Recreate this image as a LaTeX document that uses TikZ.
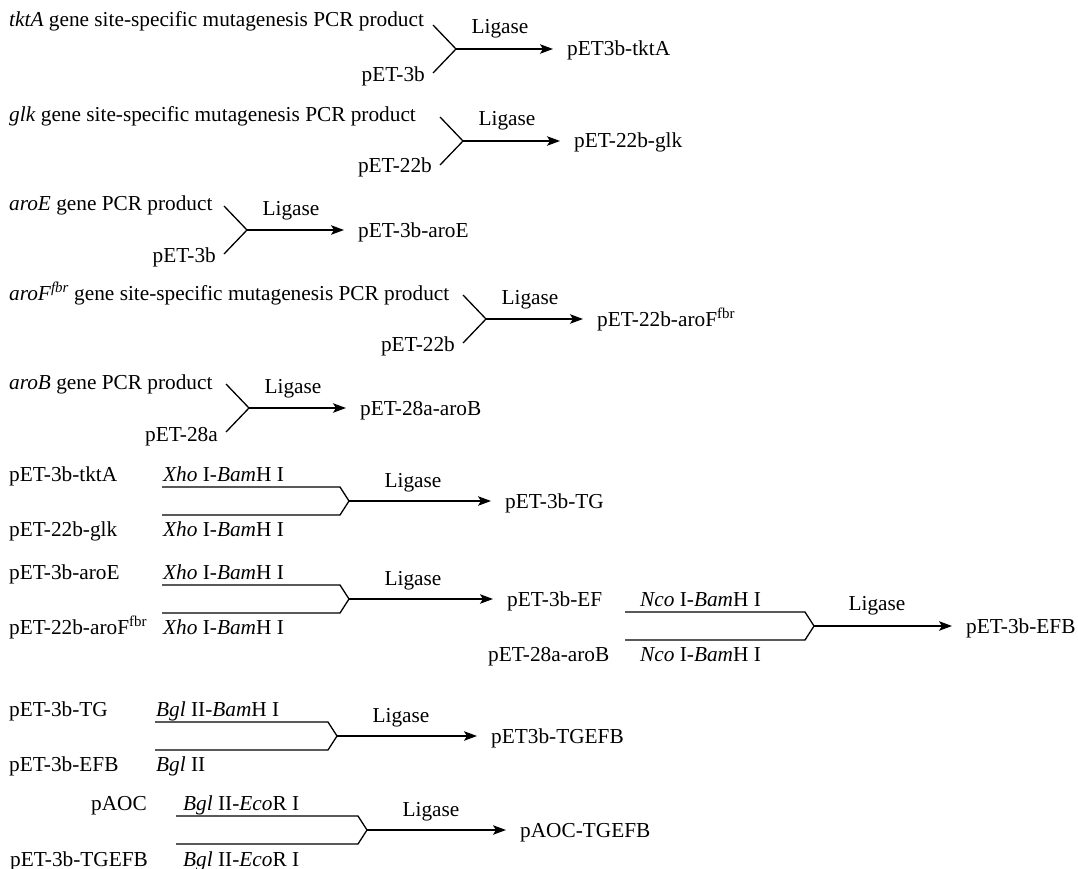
\documentclass[tikz,border=0pt]{standalone}
\usepackage{fontspec}
\setmainfont{Liberation Serif}
\usetikzlibrary{arrows.meta,calc}
\newcommand{\fs}{\fontsize{21.3}{25}\selectfont}
\begin{document}
\begin{tikzpicture}[x=1pt,y=-1pt,
  lbl/.style={inner sep=0pt, font=\fs},
  prod/.style={inner sep=0pt, font=\fs, text height=14pt, text depth=0pt, anchor=west},
  ln/.style={line width=1.3pt, line join=miter},
  arr/.style={line width=1.3pt, -{Stealth[length=13pt,width=9.5pt,inset=3pt]}, shorten >=14pt}]
\useasboundingbox (0,0) rectangle (1078,869);
\fill[white] (0,0) rectangle (1078,869);

% ---------- Y-shaped ligations ----------
% row 1
\coordinate (v1) at (456,49);
\coordinate (a1) at (433,25); \coordinate (b1) at (433,73);
\draw[ln] (a1) -- (v1) -- (b1);
\node[lbl, anchor=base west] (t1) at (9,27) {\textit{tktA} gene site-specific mutagenesis PCR product};
\node[lbl, anchor=base east] (s1) at (425,82) {pET-3b};
\node[lbl, anchor=base] (l1) at (500,34) {Ligase};
\node[prod] (p1) at (567,49) {pET3b-tktA};
\draw[arr] (v1) -- (p1.west);

% row 2
\coordinate (v2) at (463,141);
\coordinate (a2) at (440,117); \coordinate (b2) at (440,165);
\draw[ln] (a2) -- (v2) -- (b2);
\node[lbl, anchor=base west] (t2) at (9,122) {\textit{glk} gene site-specific mutagenesis PCR product};
\node[lbl, anchor=base east] (s2) at (432,173) {pET-22b};
\node[lbl, anchor=base] (l2) at (507,126) {Ligase};
\node[prod] (p2) at (574,141) {pET-22b-glk};
\draw[arr] (v2) -- (p2.west);

% row 3
\coordinate (v3) at (247,230);
\coordinate (a3) at (224,206); \coordinate (b3) at (224,254);
\draw[ln] (a3) -- (v3) -- (b3);
\node[lbl, anchor=base west] (t3) at (9,211) {\textit{aroE} gene PCR product};
\node[lbl, anchor=base east] (s3) at (216,262) {pET-3b};
\node[lbl, anchor=base] (l3) at (291,215) {Ligase};
\node[prod] (p3) at (358,230) {pET-3b-aroE};
\draw[arr] (v3) -- (p3.west);

% row 4
\coordinate (v4) at (486,319);
\coordinate (a4) at (463,295); \coordinate (b4) at (463,343);
\draw[ln] (a4) -- (v4) -- (b4);
\node[lbl, anchor=base west] (t4) at (9,300) {\textit{aroF\textsuperscript{fbr}} gene site-specific mutagenesis PCR product};
\node[lbl, anchor=base east] (s4) at (455,351) {pET-22b};
\node[lbl, anchor=base] (l4) at (530,304) {Ligase};
\node[prod] (p4) at (597,319) {pET-22b-aroF\textsuperscript{fbr}};
\draw[arr] (v4) -- (p4.west);

% row 5
\coordinate (v5) at (249,408);
\coordinate (a5) at (226,384); \coordinate (b5) at (226,432);
\draw[ln] (a5) -- (v5) -- (b5);
\node[lbl, anchor=base west] (t5) at (9,389) {\textit{aroB} gene PCR product};
\node[lbl, anchor=base east] (s5) at (218,441) {pET-28a};
\node[lbl, anchor=base] (l5) at (293,393) {Ligase};
\node[prod] (p5) at (360,408) {pET-28a-aroB};
\draw[arr] (v5) -- (p5.west);

% ---------- two-fragment ligations ----------
% row 6
\coordinate (v6) at (349,501);
\coordinate (s6a) at (162,487); \coordinate (k6a) at (340,487);
\coordinate (s6b) at (162,515); \coordinate (k6b) at (340,515);
\draw[ln] (s6a) -- (k6a) -- (v6) -- (k6b) -- (s6b);
\node[lbl, anchor=base west] (f6a) at (9,481) {pET-3b-tktA};
\node[lbl, anchor=base west] (f6b) at (9,536) {pET-22b-glk};
\node[lbl, anchor=base west] (e6a) at (163,481) {\textit{Xho} I-\textit{Bam}H I};
\node[lbl, anchor=base west] (e6b) at (163,536) {\textit{Xho} I-\textit{Bam}H I};
\node[lbl, anchor=base] (l6) at (413,487) {Ligase};
\node[prod] (p6) at (505,501) {pET-3b-TG};
\draw[arr] (v6) -- (p6.west);

% row 7
\coordinate (v7) at (349,599);
\coordinate (s7a) at (162,585); \coordinate (k7a) at (340,585);
\coordinate (s7b) at (162,613); \coordinate (k7b) at (340,613);
\draw[ln] (s7a) -- (k7a) -- (v7) -- (k7b) -- (s7b);
\node[lbl, anchor=base west] (f7a) at (9,579) {pET-3b-aroE};
\node[lbl, anchor=base west] (f7b) at (9,634) {pET-22b-aroF\textsuperscript{fbr}};
\node[lbl, anchor=base west] (e7a) at (163,579) {\textit{Xho} I-\textit{Bam}H I};
\node[lbl, anchor=base west] (e7b) at (163,634) {\textit{Xho} I-\textit{Bam}H I};
\node[lbl, anchor=base] (l7) at (413,585) {Ligase};
\node[prod] (p7) at (507,599) {pET-3b-EF};
\draw[arr] (v7) -- (p7.west);

% EFB
\coordinate (v8) at (814,626);
\coordinate (s8a) at (625,612); \coordinate (k8a) at (805,612);
\coordinate (s8b) at (625,640); \coordinate (k8b) at (805,640);
\draw[ln] (s8a) -- (k8a) -- (v8) -- (k8b) -- (s8b);
\node[lbl, anchor=base west] (f8b) at (488,661) {pET-28a-aroB};
\node[lbl, anchor=base west] (e8a) at (640,606) {\textit{Nco} I-\textit{Bam}H I};
\node[lbl, anchor=base west] (e8b) at (640,661) {\textit{Nco} I-\textit{Bam}H I};
\node[lbl, anchor=base] (l8) at (877,610) {Ligase};
\node[prod] (p8) at (966,626) {pET-3b-EFB};
\draw[arr] (v8) -- (p8.west);

% row 8
\coordinate (v9) at (337,736);
\coordinate (s9a) at (155,722); \coordinate (k9a) at (328,722);
\coordinate (s9b) at (155,750); \coordinate (k9b) at (328,750);
\draw[ln] (s9a) -- (k9a) -- (v9) -- (k9b) -- (s9b);
\node[lbl, anchor=base west] (f9a) at (9,716) {pET-3b-TG};
\node[lbl, anchor=base west] (f9b) at (9,771) {pET-3b-EFB};
\node[lbl, anchor=base west] (e9a) at (156,716) {\textit{Bgl} II-\textit{Bam}H I};
\node[lbl, anchor=base west] (e9b) at (156,771) {\textit{Bgl} II};
\node[lbl, anchor=base] (l9) at (401,722) {Ligase};
\node[prod] (p9) at (491,736) {pET3b-TGEFB};
\draw[arr] (v9) -- (p9.west);

% row 9
\coordinate (v10) at (367,830);
\coordinate (s10a) at (176,816); \coordinate (k10a) at (358,816);
\coordinate (s10b) at (176,844); \coordinate (k10b) at (358,844);
\draw[ln] (s10a) -- (k10a) -- (v10) -- (k10b) -- (s10b);
\node[lbl, anchor=base east] (f10a) at (147,810) {pAOC};
\node[lbl, anchor=base west] (f10b) at (10,866) {pET-3b-TGEFB};
\node[lbl, anchor=base west] (e10a) at (183,810) {\textit{Bgl} II-\textit{Eco}R I};
\node[lbl, anchor=base west] (e10b) at (183,866) {\textit{Bgl} II-\textit{Eco}R I};
\node[lbl, anchor=base] (l10) at (431,816) {Ligase};
\node[prod] (p10) at (520,830) {pAOC-TGEFB};
\draw[arr] (v10) -- (p10.west);
\end{tikzpicture}
\end{document}
